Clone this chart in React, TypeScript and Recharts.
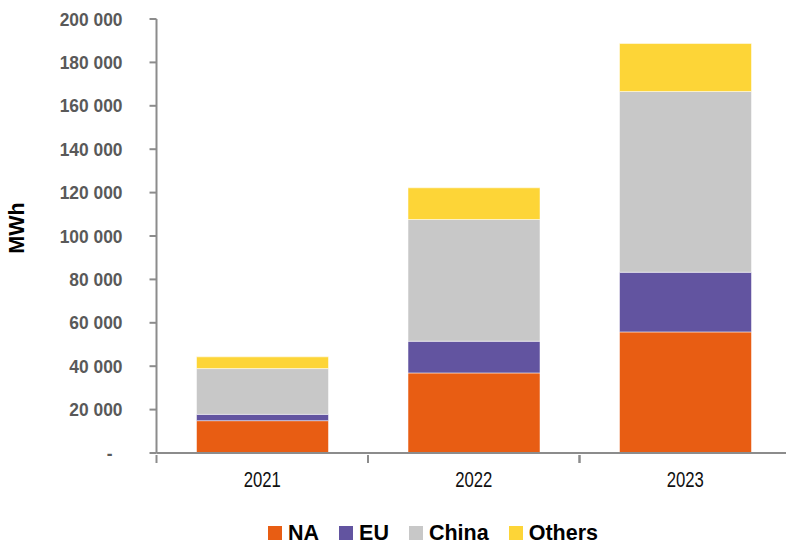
import { BarChart, Bar, XAxis, YAxis, Legend } from 'recharts';

// Yearly volumes per region, MWh
const years = ['2021', '2022', '2023'];
const na = [14900, 36900, 55800];
const eu = [2900, 14600, 27500];
const china = [21100, 56100, 83300];
const others = [5400, 14600, 22100];
const yTicks = [0, 20000, 40000, 60000, 80000, 100000, 120000, 140000, 160000, 180000, 200000];

const series = [
    { key: 'NA', values: na, color: '#E85D13' },
    { key: 'EU', values: eu, color: '#6254A0' },
    { key: 'China', values: china, color: '#C8C8C8' },
    { key: 'Others', values: others, color: '#FDD537' },
];

const data = years.map((year, i) => {
    const row: Record<string, string | number> = { year };
    series.forEach((s) => {
        row[s.key] = s.values[i];
    });
    return row;
});

const AXIS = '#8C8C8C';
const FONT = "'Liberation Sans', Arial, sans-serif";

const formatTick = (v: number) => (v === 0 ? '-' : v.toLocaleString('en-US').replace(/,/g, ' '));

const YTick = (props: any) => {
    const { x, y, payload } = props;
    const isZero = payload.value === 0;
    return (
        <text
            transform={`translate(${isZero ? x - 10 : x}, ${y + 6.5}) scale(0.94, 1)`}
            textAnchor="end"
            fill="#595959"
            fontSize={18.5}
            fontWeight="bold"
            fontFamily={FONT}
        >
            {formatTick(payload.value)}
        </text>
    );
};

// category labels centred in the band, tick marks on the band edges
const XTick = (props: any) => {
    const { x, y, payload } = props;
    const half = payload.offset ?? 105.7;
    return (
        <g>
            <line x1={x - half} x2={x - half} y1={y - 8} y2={y} stroke={AXIS} strokeWidth={2} />
            <line x1={x + half} x2={x + half} y1={y - 8} y2={y} stroke={AXIS} strokeWidth={2} />
            <text
                transform={`translate(${x}, ${y + 24}) scale(0.76, 1)`}
                textAnchor="middle"
                fill="#111"
                fontSize={22}
                fontFamily={FONT}
            >
                {payload.value}
            </text>
        </g>
    );
};

const LegendContent = () => (
    <div
        style={{
            display: 'flex',
            alignItems: 'center',
            paddingLeft: 268,
            height: 30,
            fontFamily: FONT,
            fontWeight: 'bold',
            fontSize: 21.5,
            color: '#000',
        }}
    >
        {series.map((s) => (
            <div key={s.key} style={{ display: 'flex', alignItems: 'center', marginRight: 20 }}>
                <span style={{ width: 14, height: 14, background: s.color, display: 'inline-block', marginRight: 6 }} />
                <span>{s.key}</span>
            </div>
        ))}
    </div>
);

export default function App() {
    return (
        <div
            style={{
                position: 'fixed',
                left: 0,
                top: 0,
                width: 786,
                height: 543,
                overflow: 'hidden',
                background: '#fff',
            }}
        >
            <BarChart
                width={791}
                height={543}
                data={data}
                margin={{ top: 19, right: 0, left: 0, bottom: 6 }}
                barSize={132}
            >
                <XAxis
                    dataKey="year"
                    stroke={AXIS}
                    strokeWidth={2}
                    tickLine={false}
                    tick={<XTick />}
                    tickSize={8}
                    height={54}
                    interval={0}
                />
                <YAxis
                    domain={[0, 200000]}
                    ticks={yTicks}
                    stroke={AXIS}
                    strokeWidth={2}
                    tickLine={{ stroke: AXIS, strokeWidth: 2 }}
                    tickSize={7}
                    tickMargin={27}
                    width={156.5}
                    tick={<YTick />}
                    interval={0}
                    label={({ viewBox }: any) => (
                        <text
                            transform={`translate(24, ${viewBox.y + viewBox.height / 2 - 8}) rotate(-90)`}
                            textAnchor="middle"
                            fill="#000"
                            fontSize={21.5}
                            fontWeight="bold"
                            fontFamily={FONT}
                        >
                            MWh
                        </text>
                    )}
                />
                <Legend
                    verticalAlign="bottom"
                    wrapperStyle={{ left: 0, top: 518, width: 786 }}
                    content={<LegendContent />}
                />
                {series.map((s) => (
                    <Bar
                        key={s.key}
                        dataKey={s.key}
                        stackId="total"
                        fill={s.color}
                        stroke="#ffffff"
                        strokeOpacity={0.5}
                        strokeWidth={1}
                        isAnimationActive={false}
                    />
                ))}
            </BarChart>
        </div>
    );
}
